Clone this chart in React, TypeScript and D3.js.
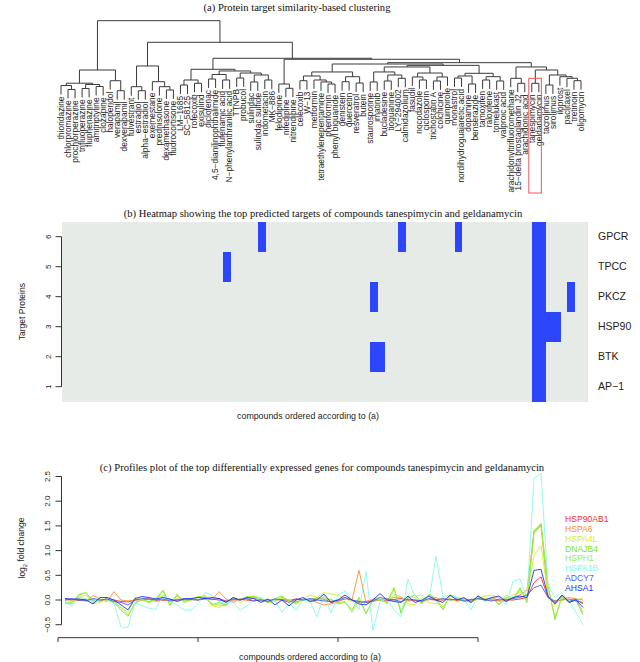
import React from 'react';
import * as d3 from 'd3';

const W = 640;
const H = 662;
const SANS = 'Liberation Sans, Arial, Helvetica, sans-serif';
const SERIF = 'Liberation Serif, Times New Roman, serif';

// ---------- data ----------
const compounds: string[] = [
  'thioridazine', 'chlorpromazine', 'prochlorperazine', 'trifluoperazine', 'fluphenazine', 'amitriptyline', 'clozapine', 'haloperidol', 'verapamil', 'dexverapamil',
  'fulvestrant', 'estradiol', 'alpha\u2212estradiol', 'exemestane', 'prednisolone', 'dexamethasone', 'fludrocortisone', 'LM\u22121685', 'SC\u221258125', 'rofecoxib',
  'exisulind', 'diclofenac', '4,5\u2212dianilinophthalimide', 'flufenamic acid', 'N\u2212phenylanthranilic acid', 'TTNPB', 'probucol', 'sulindac', 'sulindac sulfide', 'indometacin',
  'MK\u2212886', 'felodipine', 'nifedipine', 'nitrendipine', 'celecoxib', 'W\u221213', 'metformin', 'tetraethylenepentamine', 'phenformin', 'phenyl biguanide',
  'genistein', 'quercetin', 'resveratrol', 'butein', 'staurosporine', 'imatinib', 'bucladesine', 'tioguanine', 'LY\u2212294002', 'calmidazolium',
  'fasudil', 'nocodazole', 'ciclosporin', 'trichostatin A', 'colchicine', 'quinpirole', 'monastrol', 'nordihydroguaiaretic acid', 'dopamine', 'benserazide',
  'tamoxifen', 'raloxifene', 'tomelukast', 'valproic acid', 'arachidonyltrifluoromethane', '15\u2212delta prostaglandin J2', 'arachidonic acid', 'tanespimycin', 'geldanamycin', 'tacrolimus',
  'sirolimus', 'iloprost', 'paclitaxel', 'tretinoin', 'oligomycin',
];

// dendrogram: [left, right, merge height]; leaves are compound indices
type TNode = number | [TNode, TNode, number];
const clusterL: TNode = [[[0, [1, 2, 0.23], 0.274], [[3, 4, 0.241], [5, 6, 0.263], 0.286], 0.3], [7, [8, 9, 0.216], 0.328], 0.448];
const clusterM: TNode = [[10, [11, 12, 0.216], 0.261], [13, [14, [15, 16, 0.224], 0.261], 0.317], 0.493];
const clusterP: TNode = [[17, 18, 0.28], [19, 20, 0.299], 0.336];
const clusterQ: TNode = [[[21, 22, 0.347], [23, 24, 0.336], 0.398], [[25, 26, 0.358], [[27, 28, 0.314], [29, 30, 0.336], 0.392], 0.414], 0.437];
const clusterF: TNode = [31, [32, 33, 0.243], 0.291];
const clusterSa: TNode = [[[34, 35, 0.328], [36, [37, [38, 39, 0.291], 0.314], 0.336], 0.381], [[40, 41, 0.317], [42, 43, 0.302], 0.373], 0.426];
const clusterSb1: TNode = [[44, 45, 0.314], [[46, 47, 0.325], [48, 49, 0.355], 0.392], 0.426];
const clusterSb2: TNode = [[50, [51, 52, 0.336], 0.37], [[53, 54, 0.325], 55, 0.37], 0.414];
const clusterSb3: TNode = [[[56, 57, 0.358], [58, 59, 0.291], 0.381], [[60, 61, 0.336], [62, 63, 0.325], 0.373], 0.411];
const clusterT: TNode = [[64, [65, 66, 0.299], 0.355], [[67, 68, 0.299], [[69, 70, 0.28], [71, [72, [73, 74, 0.328], 0.355], 0.373], 0.392], 0.448], 0.482];
const clusterS: TNode = [clusterSa, [[clusterSb1, clusterSb2, 0.482], clusterSb3, 0.5], 0.515];
const tree: TNode = [clusterL, [clusterM, [[clusterP, clusterQ, 0.456], [clusterF, [clusterS, clusterT, 0.53], 0.568], 0.579], 0.758], 1.0];
const highlighted = [67, 68];

// heatmap: rows 1..6 (bottom to top)
const targetProteins = ['AP\u22121', 'BTK', 'HSP90', 'PKCZ', 'TPCC', 'GPCR'];
const targetHits: number[][] = [
  [67, 68],
  [44, 45, 67, 68],
  [67, 68, 69, 70],
  [44, 67, 68, 72],
  [23, 67, 68],
  [28, 48, 56, 67, 68],
];

// profiles
const genes = ['HSP90AB1', 'HSPA6', 'HSPA4L', 'DNAJB4', 'HSPH1', 'HSPA1B', 'ADCY7', 'AHSA1'];
const geneColors = ['#ff2a2a', '#ff8c30', '#d2ee2a', '#7fe21e', '#9cf03c', '#86fbe6', '#4a62ff', '#2430ee'];
const HSP90AB1 = [
  0.02, 0.0, -0.01, 0.01, 0.0, -0.02, 0.01, 0.0, -0.03, -0.04,
  0.0, 0.01, 0.02, 0.0, -0.01, 0.01, 0.0, 0.02, 0.01, 0.0,
  0.02, 0.01, 0.03, -0.02, 0.0, 0.01, 0.0, -0.02, 0.01, 0.0,
  0.0, 0.01, -0.01, 0.02, 0.0, 0.01, 0.03, 0.02, -0.05, -0.02,
  0.02, 0.0, -0.05, -0.03, 0.01, 0.0, -0.02, 0.01, 0.03, 0.0,
  -0.01, -0.03, 0.01, 0.0, 0.0, 0.02, -0.01, 0.0, 0.01, 0.03,
  0.02, 0.0, -0.02, 0.0, 0.0, 0.02, 0.05, 0.35, 0.47, 0.05,
  -0.02, 0.0, 0.02, -0.02, -0.05,
];
const HSPA6 = [
  0.0, 0.0, 0.02, -0.02, 0.09, 0.02, -0.03, 0.17, 0.0, -0.02,
  0.0, 0.02, 0.03, -0.03, 0.0, 0.0, 0.02, 0.0, 0.03, 0.0,
  0.05, 0.0, 0.17, 0.02, -0.05, 0.03, 0.0, 0.05, -0.02, 0.0,
  -0.01, 0.02, 0.0, -0.03, 0.0, 0.0, -0.05, -0.1, -0.08, -0.04,
  0.05, 0.0, 0.6, -0.05, -0.03, 0.0, 0.02, 0.05, 0.06, -0.02,
  0.0, -0.05, 0.03, 0.05, 0.0, 0.02, 0.0, 0.03, -0.02, 0.02,
  0.0, 0.04, 0.0, -0.03, 0.05, 0.1, 0.2, 1.38, 1.52, 0.05,
  -0.05, 0.02, 0.05, 0.02, 0.0,
];
const HSPA4L = [
  -0.05, -0.03, 0.05, 0.1, -0.08, -0.05, 0.02, -0.03, -0.15, -0.25,
  0.05, 0.0, -0.05, 0.02, 0.1, -0.05, 0.08, -0.05, 0.0, 0.05,
  0.1, -0.12, -0.15, -0.05, 0.05, -0.05, 0.02, 0.08, 0.03, -0.05,
  -0.03, 0.05, 0.0, -0.08, 0.02, 0.1, 0.05, 0.15, 0.12, 0.1,
  0.02, -0.03, 0.0, -0.1, 0.02, 0.0, -0.05, 0.1, 0.08, -0.08,
  -0.1, 0.05, -0.05, -0.08, 0.05, 0.0, -0.03, 0.0, -0.05, 0.03,
  0.08, 0.1, 0.05, 0.03, 0.1, 0.15, 0.1, 0.9, 1.1, 0.1,
  -0.1, 0.08, -0.05, 0.0, 0.05,
];
const DNAJB4 = [
  -0.05, -0.08, 0.1, 0.15, -0.05, 0.0, 0.03, -0.05, -0.2, -0.33,
  -0.05, 0.0, -0.03, 0.03, 0.2, -0.1, 0.1, -0.02, 0.0, 0.07,
  0.05, -0.1, -0.05, -0.1, 0.05, 0.0, 0.07, 0.06, 0.0, -0.05,
  0.03, 0.08, -0.03, -0.05, 0.0, -0.03, 0.05, 0.0, 0.02, -0.08,
  -0.05, -0.2, 0.05, -0.27, 0.0, 0.0, -0.05, 0.25, -0.27, 0.05,
  0.1, -0.05, 0.1, 0.0, -0.2, 0.1, 0.05, 0.0, -0.05, 0.05,
  0.0, 0.05, -0.1, 0.05, 0.0, 0.25, -0.05, 1.4, 1.55, 0.3,
  -0.4, 0.1, -0.05, 0.0, -0.3,
];
const HSPH1 = [
  -0.08, -0.05, 0.12, 0.15, -0.03, 0.02, 0.0, -0.05, -0.15, -0.3,
  -0.08, 0.02, -0.05, 0.0, 0.18, -0.12, 0.12, -0.05, 0.02, 0.05,
  0.08, -0.08, -0.1, -0.12, 0.03, 0.0, 0.05, 0.08, 0.02, -0.03,
  0.0, 0.05, 0.0, -0.08, 0.02, 0.0, 0.03, 0.05, 0.0, -0.05,
  -0.03, -0.25, 0.0, -0.28, 0.02, 0.05, -0.08, 0.22, -0.22, 0.08,
  0.05, -0.08, 0.12, 0.02, -0.15, 0.08, 0.02, -0.03, -0.03, 0.08,
  0.02, 0.03, -0.08, 0.1, 0.02, 0.2, 0.0, 1.35, 1.5, 0.25,
  -0.35, 0.05, -0.03, 0.02, -0.25,
];
const HSPA1B = [
  -0.03, -0.13, 0.07, 0.02, -0.02, 0.0, 0.02, -0.07, -0.55, -0.55,
  -0.05, -0.12, -0.17, -0.19, 0.1, -0.02, -0.1, -0.2, -0.21, -0.07,
  0.15, 0.1, -0.03, -0.07, -0.03, -0.2, -0.12, 0.0, 0.05, -0.03,
  0.0, -0.25, -0.07, -0.2, 0.0, -0.03, -0.34, 0.1, -0.26, 0.1,
  0.18, 0.0, -0.2, 0.57, -0.62, -0.03, 0.02, -0.2, -0.34, 0.42,
  0.08, 0.1, 0.0, 0.88, 0.07, 0.1, 0.05, 0.03, -0.2, 0.1,
  -0.03, 0.05, 0.05, -0.1, 0.38, 0.42, 0.05, 2.45, 2.57, 0.3,
  0.05, 0.15, -0.02, -0.25, -0.5,
];
const ADCY7 = [
  0.0, 0.02, 0.0, -0.02, 0.03, 0.0, 0.02, -0.03, -0.05, -0.1,
  0.0, 0.03, 0.02, 0.0, 0.02, -0.02, 0.0, 0.03, 0.01, 0.0,
  0.04, 0.02, 0.0, -0.03, 0.02, 0.0, 0.03, -0.02, 0.0, -0.03,
  0.02, 0.0, -0.05, 0.02, 0.0, 0.03, 0.0, -0.02, -0.03, 0.0,
  0.05, 0.0, -0.03, -0.05, -0.02, 0.05, 0.02, 0.0, -0.03, 0.02,
  0.0, -0.02, 0.03, 0.0, 0.03, 0.0, 0.02, -0.02, 0.0, 0.03,
  0.0, -0.02, 0.02, 0.0, 0.03, 0.05, 0.1, 0.25, 0.3, 0.05,
  -0.05, 0.1, -0.03, 0.02, -0.08,
];
const AHSA1 = [
  0.03, 0.02, 0.02, 0.0, -0.08, 0.05, 0.05, 0.0, -0.1, -0.2,
  0.03, 0.07, 0.05, 0.02, 0.05, 0.02, -0.03, 0.02, 0.03, 0.05,
  0.03, 0.05, 0.03, -0.05, 0.05, 0.0, 0.05, 0.03, -0.05, 0.02,
  -0.1, 0.0, -0.12, 0.0, 0.05, -0.03, 0.0, 0.12, -0.05, 0.0,
  0.1, 0.0, -0.08, -0.1, 0.0, 0.13, 0.0, -0.03, -0.05, 0.08,
  -0.05, 0.0, 0.08, 0.0, -0.05, 0.1, 0.0, 0.05, -0.05, 0.08,
  0.0, 0.05, 0.08, -0.03, 0.05, 0.08, 0.05, 0.6, 0.62, 0.08,
  -0.08, 0.1, -0.05, 0.0, -0.15,
];
const geneValues = [HSP90AB1, HSPA6, HSPA4L, DNAJB4, HSPH1, HSPA1B, ADCY7, AHSA1];
const profileYTicks = [-0.5, 0, 0.5, 1, 1.5, 2, 2.5];
const profileXTicks = [0, 20, 40, 60];
const heatYTicks = [1, 2, 3, 4, 5, 6];

const fmt = (v: number) => d3.format('.1f')(v).replace('-', '\u2212');

// ---------- panel (a) dendrogram ----------
function Dendrogram() {
  const leafX = d3.scaleLinear().domain([0, compounds.length - 1]).range([61, 581]);
  const yH = d3.scaleLinear().domain([0, 1]).range([110, 20.7]);
  const hang = 0.1;
  const paths: string[] = [];
  const leaves: { i: number; x: number; y: number }[] = [];
  const pairTop: Record<string, number> = {};

  function place(n: TNode): { x: number; h: number; leaf: number } {
    if (typeof n === 'number') return { x: leafX(n), h: 0, leaf: n };
    const a = place(n[0]);
    const b = place(n[1]);
    const h = n[2];
    const ya = a.leaf >= 0 ? h - hang : a.h;
    const yb = b.leaf >= 0 ? h - hang : b.h;
    if (a.leaf >= 0) leaves.push({ i: a.leaf, x: a.x, y: yH(ya) });
    if (b.leaf >= 0) leaves.push({ i: b.leaf, x: b.x, y: yH(yb) });
    if (a.leaf === highlighted[0] && b.leaf === highlighted[1]) pairTop.y = yH(h);
    paths.push(`M${a.x},${yH(ya)}V${yH(h)}H${b.x}V${yH(yb)}`);
    return { x: (a.x + b.x) / 2, h, leaf: -1 };
  }
  place(tree);

  const bx0 = leafX(highlighted[0]) - 3;
  const bx1 = leafX(highlighted[1]) + 2.5;
  const by0 = (pairTop.y ?? 83) - 5;
  const by1 = 193;

  return (
    <g>
      <text x={297} y={10.5} textAnchor="middle" fontFamily={SERIF} fontSize={10.6} fill="#111">
        (a) Protein target similarity-based clustering
      </text>
      {paths.map((d, k) => (
        <path key={k} d={d} fill="none" stroke="#3a3a3a" strokeWidth={1} />
      ))}
      {leaves.map((l) => (
        <text
          key={l.i}
          transform={`translate(${l.x},${l.y + 2}) rotate(-90)`}
          textAnchor="end"
          dy="0.33em"
          fontFamily={SANS}
          fontSize={8.4}
          fill="#222"
        >
          {compounds[l.i]}
        </text>
      ))}
      <rect x={bx0} y={by0} width={bx1 - bx0} height={by1 - by0} fill="none" stroke="#f25555" strokeWidth={1} />
    </g>
  );
}

// ---------- panel (b) heatmap ----------
function Heatmap() {
  const x = d3.scaleBand<number>().domain(d3.range(compounds.length)).range([61.5, 588]).padding(0);
  const y = d3.scaleLinear().domain([0.5, 6.5]).range([401.7, 221.7]);
  const cells: { c: number; r: number }[] = [];
  targetHits.forEach((list, r) => list.forEach((c) => cells.push({ c, r: r + 1 })));
  return (
    <g>
      <text x={323} y={216.5} textAnchor="middle" fontFamily={SERIF} fontSize={10.6} fill="#111">
        (b) Heatmap showing the top predicted targets of compounds tanespimycin and geldanamycin
      </text>
      <rect x={61.5} y={221.7} width={588 - 61.5} height={180} fill="#e6ebe8" shapeRendering="crispEdges" />
      {cells.map((d, k) => (
        <rect
          key={k}
          x={x(d.c)}
          y={y(d.r + 0.5)}
          width={x.bandwidth() + 0.6}
          height={y(d.r - 0.5) - y(d.r + 0.5) + 0.6}
          fill="#2b46fb"
          shapeRendering="crispEdges"
        />
      ))}
      <line x1={61.5} x2={61.5} y1={y(1)} y2={y(6)} stroke="#333" />
      {heatYTicks.map((t) => (
        <g key={t}>
          <line x1={61.5} x2={55.5} y1={y(t)} y2={y(t)} stroke="#333" />
          <text transform={`translate(48,${y(t)}) rotate(-90)`} textAnchor="middle" dy="0.33em" fontFamily={SANS} fontSize={8} fill="#222">
            {t}
          </text>
        </g>
      ))}
      <text transform={`translate(22.5,311.7) rotate(-90)`} textAnchor="middle" dy="0.33em" fontFamily={SANS} fontSize={8.5} fill="#222">
        Target Proteins
      </text>
      {targetProteins.map((p, k) => (
        <text key={p} x={598} y={y(k + 1)} dy="0.35em" fontFamily={SANS} fontSize={10.5} fill="#222">
          {p}
        </text>
      ))}
      <text x={308} y={419} textAnchor="middle" fontFamily={SANS} fontSize={8.8} fill="#222">
        compounds ordered according to (a)
      </text>
    </g>
  );
}

// ---------- panel (c) profiles ----------
function Profiles() {
  const x = d3.scaleLinear().domain([1, compounds.length]).range([65, 583]);
  const y = d3.scaleLinear().domain([0, 2.5]).range([600, 476.5]);
  const axisX = x(0.5);
  const line = d3
    .line<number>()
    .x((_, i) => x(i + 1))
    .y((v) => y(v));
  const legendTop = 519;
  const legendStep = 9.85;
  return (
    <g>
      <text x={322} y={470.5} textAnchor="middle" fontFamily={SERIF} fontSize={10.6} fill="#111">
        (c) Profiles plot of the top differentially expressed genes for compounds tanespimycin and geldanamycin
      </text>
      {geneValues.map((vals, k) => (
        <path key={genes[k]} d={line(vals) ?? ''} fill="none" stroke={geneColors[k]} strokeWidth={0.9} />
      ))}
      <line x1={axisX} x2={axisX} y1={y(-0.5)} y2={y(2.5)} stroke="#333" />
      {profileYTicks.map((t) => (
        <g key={t}>
          <line x1={axisX} x2={axisX - 6} y1={y(t)} y2={y(t)} stroke="#333" />
          <text transform={`translate(${axisX - 14},${y(t)}) rotate(-90)`} textAnchor="middle" dy="0.33em" fontFamily={SANS} fontSize={8} fill="#222">
            {fmt(t)}
          </text>
        </g>
      ))}
      <text transform={`translate(22.5,548) rotate(-90)`} textAnchor="middle" dy="0.33em" fontFamily={SANS} fontSize={8.5} fill="#222">
        log
        <tspan fontSize={6} dy="0.35em">2</tspan>
        <tspan dy="-0.35em"> fold change</tspan>
      </text>
      <line x1={x(0)} x2={x(60)} y1={637.7} y2={637.7} stroke="#333" />
      {profileXTicks.map((t) => (
        <line key={t} x1={x(t)} x2={x(t)} y1={637.7} y2={642} stroke="#333" />
      ))}
      <text x={310} y={660} textAnchor="middle" fontFamily={SANS} fontSize={8.8} fill="#222">
        compounds ordered according to (a)
      </text>
      {genes.map((g, k) => (
        <text key={g} x={565} y={legendTop + k * legendStep} dy="0.35em" fontFamily={SANS} fontSize={8.6} fill={geneColors[k]}>
          {g}
        </text>
      ))}
    </g>
  );
}

export default function App() {
  return (
    <svg
      width={W}
      height={H}
      viewBox={`0 0 ${W} ${H}`}
      style={{ position: 'absolute', left: 0, top: 0, background: '#fff', display: 'block' }}
    >
      <rect width={W} height={H} fill="#fff" />
      <Dendrogram />
      <Heatmap />
      <Profiles />
    </svg>
  );
}
